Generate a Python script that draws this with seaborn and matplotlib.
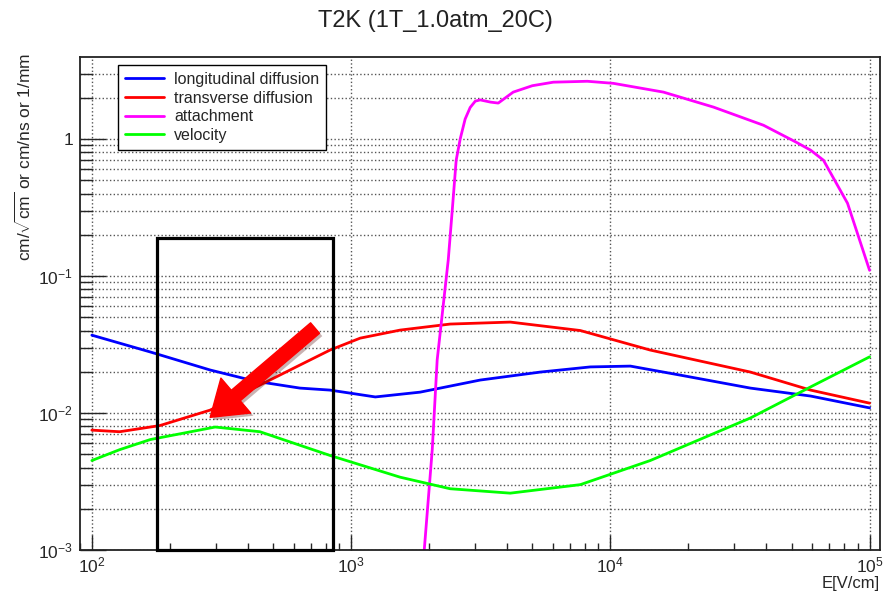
import matplotlib
matplotlib.use("Agg")
import matplotlib.pyplot as plt
import matplotlib.patheffects as pe
from matplotlib.patches import Rectangle
from matplotlib.ticker import FixedLocator, FixedFormatter, LogLocator, NullFormatter
import numpy as np
import pandas as pd
import seaborn as sns

# ---- data: drift gas properties vs electric field E [V/cm] ----
long_E = [100, 168, 286, 425, 635, 829, 1240, 1846, 3147, 5370, 8370, 11950, 18620, 34700, 59200, 100000]
long_val = [0.037, 0.0279, 0.0206, 0.0171, 0.0152, 0.0147, 0.0131, 0.0142, 0.0174, 0.0199, 0.0217, 0.0220, 0.0189, 0.0152, 0.0133, 0.0109]

trans_E = [100, 128, 183, 286, 445, 635, 829, 1084, 1546, 2410, 4111, 7660, 14260, 34700, 59200, 100000]
trans_val = [0.0075, 0.0073, 0.0081, 0.0105, 0.016, 0.0224, 0.0288, 0.0352, 0.0403, 0.0446, 0.0461, 0.040, 0.0288, 0.0199, 0.0147, 0.0118]

att_E = [1850, 1915, 2056, 2148, 2370, 2455, 2543, 2635, 2754, 2880, 3013, 3147, 3450, 3695, 4220, 5000, 6025, 8150,
         10270, 16030, 25000, 39000, 52000, 59200, 66400, 82200, 100000]
att_val = [0.0003, 0.001, 0.0054, 0.0244, 0.131, 0.30, 0.70, 1.0, 1.40, 1.70, 1.89, 1.93, 1.86, 1.83, 2.2, 2.45, 2.6, 2.64,
           2.55, 2.2, 1.71, 1.26, 0.95, 0.83, 0.70, 0.34, 0.11]

vel_E = [100, 128, 168, 299, 445, 829, 1546, 2410, 4111, 7660, 14260, 34700, 59200, 100000]
vel_val = [0.0045, 0.0054, 0.0064, 0.0079, 0.0073, 0.0049, 0.0034, 0.0028, 0.0026, 0.0030, 0.0045, 0.0092, 0.0155, 0.0257]

series_names = ["longitudinal diffusion", "transverse diffusion", "attachment", "velocity"]
series_colors = ["#0000ff", "#ff0000", "#ff00ff", "#00ff00"]

y_tick_vals = [1e-3, 1e-2, 1e-1, 1]
y_tick_labels = [r"$10^{-3}$", r"$10^{-2}$", r"$10^{-1}$", "1"]
x_tick_vals = [1e2, 1e3, 1e4, 1e5]
x_tick_labels = [r"$10^{2}$", r"$10^{3}$", r"$10^{4}$", r"$10^{5}$"]

# highlighted region and pointer
box_E = (178, 853)
box_top = 0.189
arrow_from = (726, 0.0417)
arrow_to = (286, 0.0093)

frames = []
for name, E, v in zip(series_names,
                      [long_E, trans_E, att_E, vel_E],
                      [long_val, trans_val, att_val, vel_val]):
    frames.append(pd.DataFrame({"E": E, "value": v, "series": name}))
df = pd.concat(frames, ignore_index=True)

sns.set_style("ticks")
plt.rcParams["font.family"] = ["Liberation Sans", "DejaVu Sans"]
plt.rcParams["mathtext.fontset"] = "custom"
plt.rcParams["mathtext.rm"] = "Liberation Sans"
plt.rcParams["mathtext.it"] = "Liberation Sans:italic"
plt.rcParams["mathtext.bf"] = "Liberation Sans:bold"

fig = plt.figure(figsize=(8.87, 5.93), dpi=100)
ax = fig.add_axes([80 / 887, 1 - 550 / 593, 800 / 887, 493 / 593])

for name, color in zip(series_names, series_colors):
    sub = df[df["series"] == name]
    sns.lineplot(data=sub, x="E", y="value", ax=ax, color=color, lw=2.0,
                 label=name, estimator=None, sort=True, legend=False)

ax.set_xscale("log")
ax.set_yscale("log")
ax.set_xlim(90, 1.097e5)
ax.set_ylim(1e-3, 3.97)

# axes ticks & grid
ax.xaxis.set_major_locator(FixedLocator(x_tick_vals))
ax.xaxis.set_major_formatter(FixedFormatter(x_tick_labels))
ax.xaxis.set_minor_locator(LogLocator(base=10, subs=np.arange(2, 10)))
ax.xaxis.set_minor_formatter(NullFormatter())
ax.yaxis.set_major_locator(FixedLocator(y_tick_vals))
ax.yaxis.set_major_formatter(FixedFormatter(y_tick_labels))
ax.yaxis.set_minor_locator(LogLocator(base=10, subs=np.arange(2, 10)))
ax.yaxis.set_minor_formatter(NullFormatter())

ax.tick_params(axis="y", which="major", direction="in", length=18.5, width=1.0, pad=5, labelsize=12.5)
ax.tick_params(axis="y", which="minor", direction="in", length=9, width=1.0)
ax.tick_params(axis="x", which="major", direction="in", length=10.5, width=1.0, pad=4, labelsize=12.5)
ax.tick_params(axis="x", which="minor", direction="in", length=5, width=1.0)
ax.tick_params(top=False, right=False, which="both")

ax.grid(True, axis="y", which="both", ls=":", lw=1.0, color="#555555")
ax.grid(True, axis="x", which="major", ls=":", lw=1.0, color="#555555")
ax.set_axisbelow(True)
for s in ax.spines.values():
    s.set_linewidth(1.3)
    s.set_color("#222222")

ax.set_xlabel("E[V/cm]", fontsize=12, loc="right")
ax.xaxis.set_label_coords(1.0, -0.052)
ax.set_ylabel(r"cm/$\sqrt{\mathrm{cm}}$ or cm/ns or 1/mm", fontsize=12.5, loc="top")
ax.yaxis.set_label_coords(-0.058, 1.008)

fig.text(435 / 887, 1 - 21 / 593, "T2K (1T_1.0atm_20C)", fontsize=17,
         ha="center", va="center", color="#222222")

# region box
rect = Rectangle((box_E[0], 1e-3), box_E[1] - box_E[0], box_top - 1e-3,
                 fill=False, ec="black", lw=2.3, zorder=5, clip_on=False)
ax.add_patch(rect)

# pointer arrow
ax.annotate("", xy=arrow_to, xytext=arrow_from, xycoords="data", textcoords="data",
            arrowprops=dict(arrowstyle="simple,head_length=1.1,head_width=1.5,tail_width=0.45",
                            fc="#ff0000", ec="#ff0000", mutation_scale=22, shrinkA=0, shrinkB=0,
                            path_effects=[pe.SimplePatchShadow(offset=(2, -2), alpha=0.3), pe.Normal()]),
            zorder=6)

leg = ax.legend(loc="upper left", bbox_to_anchor=(0.0475, 0.984), borderaxespad=0,
                fancybox=False, frameon=True, edgecolor="black", framealpha=1,
                fontsize=11.5, handlelength=2.4, handletextpad=0.65, borderpad=0.45,
                labelspacing=0.22)
leg.get_frame().set_linewidth(1.0)
leg.set_zorder(10)

fig.savefig("out.png", dpi=100, facecolor="white")
